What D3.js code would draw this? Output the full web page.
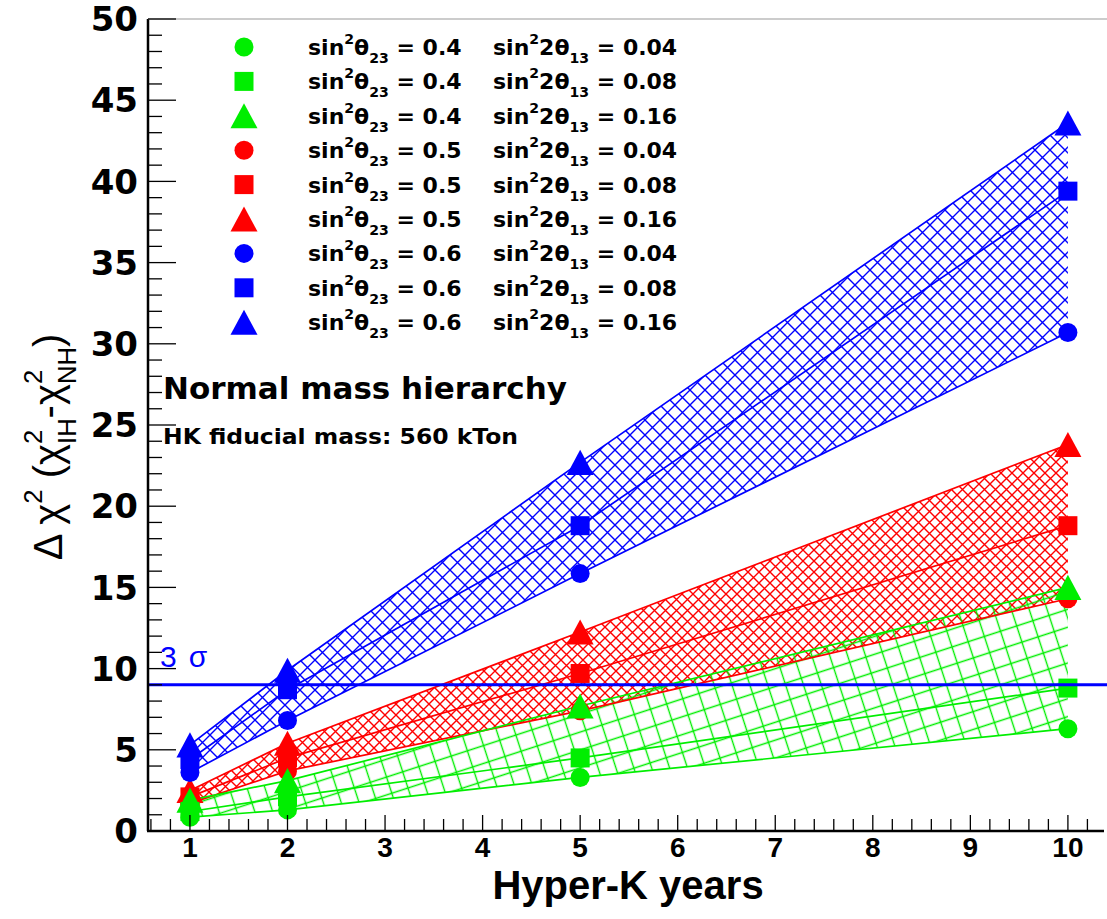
<!DOCTYPE html>
<html>
<head>
<meta charset="utf-8">
<script src="https://cdn.jsdelivr.net/npm/d3@7"></script>
<style>
  body { margin: 0; background: #fff; }
  svg { display: block; }
</style>
</head>
<body>
<div id="chart"></div>
<script>
// Hyper-K exposure (years) at which the points were computed
var years = [1, 2, 5, 10];

// legend parameters, one entry per series
var sin2th23  = ["0.4", "0.4", "0.4", "0.5", "0.5", "0.5", "0.6", "0.6", "0.6"];
var sin22th13 = ["0.04", "0.08", "0.16", "0.04", "0.08", "0.16", "0.04", "0.08", "0.16"];

// delta chi2 values
var dchi2_04_004 = [0.85, 1.3, 3.3, 6.3];
var dchi2_04_008 = [1.2, 2.1, 4.5, 8.8];
var dchi2_04_016 = [1.9, 3.1, 7.7, 15.0];
var dchi2_05_004 = [1.7, 3.7, 7.4, 14.3];
var dchi2_05_008 = [2.1, 4.5, 9.7, 18.8];
var dchi2_05_016 = [2.5, 5.4, 12.25, 23.8];
var dchi2_06_004 = [3.6, 6.8, 15.85, 30.7];
var dchi2_06_008 = [4.4, 8.7, 18.8, 39.4];
var dchi2_06_016 = [5.3, 9.9, 22.7, 43.6];

var threeSigma = 9;
var xTicks = [1, 2, 3, 4, 5, 6, 7, 8, 9, 10];
var yTicks = [0, 5, 10, 15, 20, 25, 30, 35, 40, 45, 50];

var W = 1107, H = 919;
var svg = d3.select("#chart").append("svg").attr("width", W).attr("height", H);

var x = d3.scaleLinear().domain([0.57, 10.37]).range([148, 1104]);
var y = d3.scaleLinear().domain([0, 50]).range([831, 19]);

var colGreen = "#00ee00", colRed = "#ff0000", colBlue = "#0000ff";

// series table built from the arrays above
var shapes = ["circle", "square", "triangle"];
var cols = [colGreen, colGreen, colGreen, colRed, colRed, colRed, colBlue, colBlue, colBlue];
var vals = [dchi2_04_004, dchi2_04_008, dchi2_04_016,
            dchi2_05_004, dchi2_05_008, dchi2_05_016,
            dchi2_06_004, dchi2_06_008, dchi2_06_016];
var series = vals.map(function (v, i) {
    return {values: v, color: cols[i], shape: shapes[i % 3], th23: sin2th23[i], th13: sin22th13[i]};
});

// hatch patterns
var defs = svg.append("defs");
function diagHatch(id, color, s) {
    defs.append("pattern").attr("id", id).attr("patternUnits", "userSpaceOnUse")
        .attr("width", s).attr("height", s)
        .append("path")
        .attr("d", "M-2,-2L" + (s + 2) + "," + (s + 2) + "M" + (s + 2) + ",-2L-2," + (s + 2))
        .attr("stroke", color).attr("stroke-width", 1.4).attr("fill", "none");
}
diagHatch("hatchBlue", colBlue, 15);
diagHatch("hatchRed", colRed, 11);
defs.append("pattern").attr("id", "hatchGreen").attr("patternUnits", "userSpaceOnUse")
    .attr("width", 17).attr("height", 17).attr("patternTransform", "rotate(-18)")
    .append("path").attr("d", "M0,8.5H17M8.5,0V17")
    .attr("stroke", colGreen).attr("stroke-width", 1.4).attr("fill", "none");

// bands between sin^2 2theta13 = 0.04 and 0.16
var bands = [
    {lo: dchi2_05_004, hi: dchi2_05_016, fill: "url(#hatchRed)"},
    {lo: dchi2_06_004, hi: dchi2_06_016, fill: "url(#hatchBlue)"},
    {lo: dchi2_04_004, hi: dchi2_04_016, fill: "url(#hatchGreen)"}
];
var area = d3.area()
    .x(function (d) { return x(d.x); })
    .y0(function (d) { return y(d.lo); })
    .y1(function (d) { return y(d.hi); });
svg.append("g").selectAll("path").data(bands).enter().append("path")
    .attr("d", function (b) {
        return area(years.map(function (yr, i) { return {x: yr, lo: b.lo[i], hi: b.hi[i]}; }));
    })
    .attr("fill", function (b) { return b.fill; });

// draw order: red, blue, green
var order = [3, 4, 5, 6, 7, 8, 0, 1, 2];

var line = d3.line()
    .x(function (d, i) { return x(years[i]); })
    .y(function (d) { return y(d); });
svg.append("g").selectAll("path").data(order.map(function (i) { return series[i]; })).enter()
    .append("path")
    .attr("d", function (s) { return line(s.values); })
    .attr("fill", "none").attr("stroke", function (s) { return s.color; })
    .attr("stroke-width", 1.7);

// marker shapes (triangle centred on its bounding box like ROOT)
var triUp = {
    draw: function (ctx, size) {
        var w = Math.sqrt(size), h = w * 0.93;
        ctx.moveTo(0, -h / 2);
        ctx.lineTo(w / 2, h / 2);
        ctx.lineTo(-w / 2, h / 2);
        ctx.closePath();
    }
};
function markerPath(shape) {
    if (shape === "circle") return d3.symbol().type(d3.symbolCircle).size(Math.PI * 9.5 * 9.5)();
    if (shape === "square") return d3.symbol().type(d3.symbolSquare).size(19 * 19)();
    return d3.symbol().type(triUp).size(27 * 27)();
}

var marks = svg.append("g");
order.forEach(function (si) {
    var s = series[si];
    marks.selectAll(null).data(s.values).enter().append("path")
        .attr("d", markerPath(s.shape))
        .attr("transform", function (d, i) { return "translate(" + x(years[i]) + "," + y(d) + ")"; })
        .attr("fill", s.color);
});

// 3 sigma line
svg.append("line")
    .attr("x1", 148).attr("x2", W)
    .attr("y1", y(threeSigma)).attr("y2", y(threeSigma))
    .attr("stroke", colBlue).attr("stroke-width", 3);
svg.append("text").attr("x", 160).attr("y", y(threeSigma) - 18)
    .attr("fill", colBlue).style("font-family", "Liberation Sans, Arial, sans-serif")
    .style("font-size", "30px")
    .call(function (t) {
        t.append("tspan").text("3");
        t.append("tspan").attr("dx", 12).text("σ");
    });

// axes (ROOT style, ticks inside the frame)
var axes = svg.append("g").attr("stroke", "#000");
axes.append("line").attr("x1", 148).attr("x2", 148).attr("y1", y(50)).attr("y2", y(0)).attr("stroke-width", 2.5);
axes.append("line").attr("x1", 147).attr("x2", 1104).attr("y1", y(0)).attr("y2", y(0)).attr("stroke-width", 2.5);
axes.append("line").attr("x1", 148).attr("x2", W).attr("y1", y(50)).attr("y2", y(50))
    .attr("stroke", "#999").attr("stroke-width", 1);

var yMinor = d3.range(0, 51, 1);
axes.selectAll(null).data(yMinor).enter().append("line")
    .attr("x1", 148).attr("x2", function (d) { return d % 5 === 0 ? 176 : 162; })
    .attr("y1", function (d) { return y(d); }).attr("y2", function (d) { return y(d); })
    .attr("stroke-width", 1.3);

var xMinor = d3.range(3, 52).map(function (k) { return k / 5; });
axes.selectAll(null).data(xMinor).enter().append("line")
    .attr("x1", function (d) { return x(d); }).attr("x2", function (d) { return x(d); })
    .attr("y1", y(0)).attr("y2", function (d) { return Math.abs(d - Math.round(d)) < 1e-6 ? y(0) - 16 : y(0) - 12; })
    .attr("stroke-width", 1.3);

svg.append("g").selectAll("text").data(yTicks).enter().append("text")
    .attr("x", 138).attr("y", function (d) { return y(d); }).attr("dy", "0.36em")
    .attr("text-anchor", "end")
    .style("font-family", "DejaVu Sans, sans-serif").style("font-weight", "bold").style("font-size", "34px")
    .text(function (d) { return d; });

svg.append("g").selectAll("text").data(xTicks).enter().append("text")
    .attr("x", function (d) { return x(d); }).attr("y", 857)
    .attr("text-anchor", "middle")
    .style("font-family", "Liberation Sans Narrow, Arial Narrow, sans-serif").style("font-weight", "bold")
    .style("font-size", "28px")
    .text(function (d) { return d; });

svg.append("text").attr("x", 628).attr("y", 899).attr("text-anchor", "middle")
    .style("font-family", "Liberation Sans, Arial, sans-serif").style("font-weight", "bold")
    .style("font-size", "40px").text("Hyper-K years");

// rich text helper: segments with normal / sup / sub pieces
function rich(text, segs, size) {
    var off = 0, prev = null;
    segs.forEach(function (s) {
        var target = 0, fs = size;
        if (s.k === "sup") { target = -0.5 * size; fs = 0.64 * size; }
        if (s.k === "sub") { target = 0.36 * size; fs = 0.64 * size; }
        var t = text.append("tspan").attr("font-size", fs).attr("dy", target - off).text(s.t);
        if (s.stack && prev) t.attr("dx", -prev.node().getComputedTextLength());
        off = target;
        prev = t;
    });
}

// y title
var yt = svg.append("text")
    .attr("transform", "translate(62,447) rotate(-90)")
    .attr("text-anchor", "middle")
    .style("font-family", "Liberation Sans, Arial, sans-serif").style("font-size", "40px");
rich(yt, [
    {t: "Δ χ"}, {t: "2", k: "sup"}, {t: " (χ"}, {t: "2", k: "sup"}, {t: "IH", k: "sub", stack: true},
    {t: "-χ"}, {t: "2", k: "sup"}, {t: "NH", k: "sub", stack: true}, {t: ")"}
], 40);

// legend
var legRows = d3.range(series.length);
var leg = svg.append("g");
legRows.forEach(function (i) {
    var s = series[i];
    var ry = 47 + i * 34.4;
    leg.append("path").attr("d", markerPath(s.shape))
        .attr("transform", "translate(244," + ry + ")").attr("fill", s.color);
    var t1 = leg.append("text").attr("x", 308).attr("y", ry + 8)
        .style("font-family", "DejaVu Sans, sans-serif").style("font-weight", "bold").style("font-size", "22px");
    rich(t1, [{t: "sin"}, {t: "2", k: "sup"}, {t: "θ"}, {t: "23", k: "sub"}, {t: " = " + s.th23}], 22);
    var t2 = leg.append("text").attr("x", 493).attr("y", ry + 8)
        .style("font-family", "DejaVu Sans, sans-serif").style("font-weight", "bold").style("font-size", "22px");
    rich(t2, [{t: "sin"}, {t: "2", k: "sup"}, {t: "2θ"}, {t: "13", k: "sub"}, {t: " = " + s.th13}], 22);
});

svg.append("text").attr("x", 163).attr("y", 399)
    .style("font-family", "DejaVu Sans, sans-serif").style("font-weight", "bold").style("font-size", "31px")
    .text("Normal mass hierarchy");
svg.append("text").attr("x", 163).attr("y", 444)
    .attr("textLength", 355).attr("lengthAdjust", "spacingAndGlyphs")
    .style("font-family", "DejaVu Sans, sans-serif").style("font-weight", "bold").style("font-size", "21px")
    .text("HK fiducial mass: 560 kTon");
</script>
</body>
</html>
